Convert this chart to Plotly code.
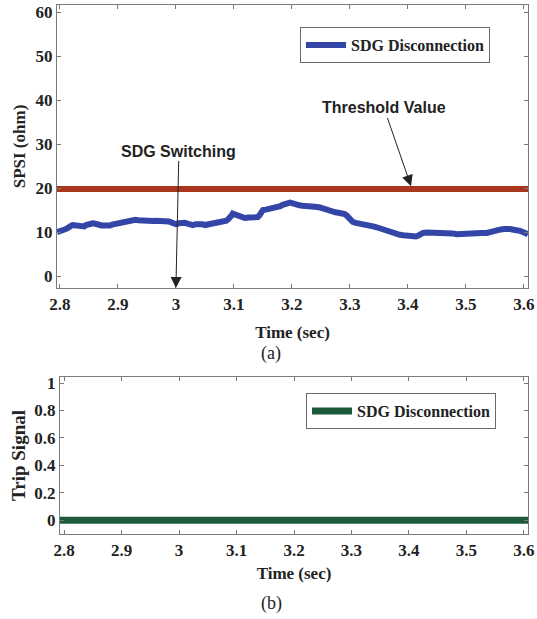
import plotly.graph_objects as go

# --- data -------------------------------------------------------------
time_s = [2.795, 2.800, 2.804, 2.808, 2.812, 2.815, 2.819, 2.822, 2.826, 2.830,
          2.834, 2.838, 2.842, 2.845, 2.849, 2.852, 2.857, 2.861, 2.865, 2.869,
          2.872, 2.877, 2.881, 2.886, 2.890, 2.894, 2.898, 2.904, 2.908, 2.912,
          2.917, 2.921, 2.926, 2.930, 2.935, 2.940, 2.945, 2.950, 2.955, 2.960,
          2.965, 2.970, 2.977, 2.984, 2.988, 2.992, 2.996, 3.000, 3.005, 3.011,
          3.016, 3.020, 3.025, 3.029, 3.034, 3.038, 3.042, 3.046, 3.050, 3.055,
          3.059, 3.063, 3.068, 3.072, 3.076, 3.080, 3.084, 3.087, 3.090, 3.093,
          3.096, 3.098, 3.102, 3.105, 3.109, 3.113, 3.119, 3.125, 3.130, 3.135,
          3.138, 3.141, 3.144, 3.146, 3.148, 3.150, 3.155, 3.160, 3.166, 3.173,
          3.177, 3.180, 3.184, 3.187, 3.190, 3.193, 3.197, 3.200, 3.203, 3.206,
          3.210, 3.213, 3.218, 3.222, 3.227, 3.231, 3.236, 3.240, 3.244, 3.248,
          3.252, 3.256, 3.260, 3.263, 3.267, 3.270, 3.275, 3.280, 3.285, 3.291,
          3.295, 3.298, 3.302, 3.305, 3.310, 3.315, 3.322, 3.329, 3.334, 3.340,
          3.346, 3.352, 3.356, 3.360, 3.365, 3.369, 3.375, 3.380, 3.386, 3.392,
          3.396, 3.400, 3.405, 3.409, 3.414, 3.418, 3.422, 3.426, 3.433, 3.440,
          3.448, 3.456, 3.463, 3.470, 3.477, 3.484, 3.492, 3.500, 3.510, 3.519,
          3.527, 3.536, 3.542, 3.547, 3.553, 3.560, 3.566, 3.571, 3.576, 3.580,
          3.584, 3.588, 3.593, 3.598, 3.603, 3.607]
spsi_ohm = [10.0, 10.1, 10.3, 10.6, 10.8, 11.2, 11.4, 11.6, 11.5, 11.3,
            11.2, 11.1, 11.3, 11.6, 11.8, 12.0, 12.0, 11.9, 11.7, 11.6,
            11.5, 11.5, 11.4, 11.5, 11.7, 11.8, 11.9, 12.0, 12.2, 12.4,
            12.6, 12.7, 12.8, 12.8, 12.7, 12.6, 12.7, 12.6, 12.5, 12.5,
            12.6, 12.6, 12.5, 12.6, 12.4, 12.2, 12.0, 11.8, 12.0, 12.2,
            12.1, 11.9, 11.7, 11.6, 11.8, 11.9, 11.8, 11.8, 11.6, 11.7,
            11.9, 12.0, 12.2, 12.3, 12.3, 12.4, 12.5, 12.6, 12.9, 13.2,
            13.8, 14.2, 14.0, 13.7, 13.4, 13.3, 13.2, 13.3, 13.3, 13.3,
            13.3, 13.4, 13.8, 14.3, 14.7, 15.0, 15.1, 15.2, 15.4, 15.6,
            15.7, 15.9, 16.2, 16.4, 16.6, 16.7, 16.7, 16.6, 16.4, 16.2,
            16.2, 16.1, 16.0, 16.0, 15.9, 15.9, 15.8, 15.7, 15.7, 15.6,
            15.4, 15.2, 15.0, 14.8, 14.7, 14.6, 14.5, 14.4, 14.3, 14.1,
            13.7, 13.2, 12.7, 12.3, 12.1, 12.0, 11.9, 11.8, 11.6, 11.3,
            11.1, 10.8, 10.6, 10.4, 10.2, 10.1, 9.8, 9.6, 9.4, 9.3,
            9.2, 9.1, 9.0, 8.9, 9.0, 9.2, 9.5, 9.8, 9.9, 9.9,
            10.0, 10.0, 9.9, 9.8, 9.7, 9.5, 9.6, 9.7, 9.8, 9.8,
            9.8, 9.8, 10.0, 10.5, 10.6, 10.6, 10.7, 10.8, 10.7, 10.6,
            10.6, 10.5, 10.3, 10.0, 9.8, 9.5]
threshold_ohm = 19.8
trip_time = [2.793, 3.607]
trip_signal = [0, 0]

x_ticks = [2.8, 2.9, 3.0, 3.1, 3.2, 3.3, 3.4, 3.5, 3.6]
x_tick_text = ["2.8", "2.9", "3", "3.1", "3.2", "3.3", "3.4", "3.5", "3.6"]
spsi_ticks = [0, 10, 20, 30, 40, 50, 60]
trip_ticks = [0, 0.2, 0.4, 0.6, 0.8, 1]
trip_tick_text = ["0", "0.2", "0.4", "0.6", "0.8", "1"]

switch_time = 3.0
threshold_mark_time = 3.407

# --- styling ----------------------------------------------------------
SERIF = "Liberation Serif"
SANS = "Liberation Sans"
AXIS_GREY = "#7a7a7a"
TEXT = "#222222"

tick_font = dict(family=SERIF, size=17, color=TEXT, weight="bold")
title_font = dict(family=SERIF, size=17, color=TEXT, weight="bold")

fig = go.Figure()

fig.add_trace(go.Scatter(
    x=[trip_time[0], trip_time[1]], y=[threshold_ohm, threshold_ohm],
    mode="lines", line=dict(color="#a8361c", width=6),
    showlegend=False, xaxis="x", yaxis="y", hoverinfo="skip"))
fig.add_trace(go.Scatter(
    x=time_s, y=spsi_ohm, mode="lines", name="SDG Disconnection",
    line=dict(color="#3346a8", width=6), xaxis="x", yaxis="y", legend="legend"))
fig.add_trace(go.Scatter(
    x=trip_time, y=trip_signal, mode="lines", name="SDG Disconnection",
    line=dict(color="#1d5a3a", width=7), xaxis="x2", yaxis="y2", legend="legend2"))

axis_common = dict(
    showline=True, linecolor=AXIS_GREY, linewidth=1.2, mirror="allticks",
    ticks="inside", ticklen=4, tickcolor=AXIS_GREY, tickwidth=1,
    showgrid=False, zeroline=False, tickfont=tick_font, automargin=False,
)

legend_font = dict(family=SERIF, size=16, color=TEXT, weight="bold")

fig.update_layout(
    width=537, height=619,
    margin=dict(l=0, r=0, t=0, b=0),
    paper_bgcolor="white", plot_bgcolor="white",
    xaxis=dict(domain=[57 / 537, 528 / 537], range=[2.795, 3.607], anchor="y",
               tickvals=x_ticks, ticktext=x_tick_text,
               title=dict(text="Time (sec)", font=title_font, standoff=13),
               **axis_common),
    yaxis=dict(domain=[1 - 288 / 619, 1 - 5 / 619], range=[-2.7, 61.6], anchor="x",
               tickvals=spsi_ticks,
               title=dict(text="SPSI (ohm)", font=title_font, standoff=5),
               **axis_common),
    xaxis2=dict(domain=[60 / 537, 528 / 537], range=[2.793, 3.607], anchor="y2",
                tickvals=x_ticks, ticktext=x_tick_text,
                title=dict(text="Time (sec)", font=title_font, standoff=8),
                **axis_common),
    yaxis2=dict(domain=[1 - 534 / 619, 1 - 377 / 619], range=[-0.1, 1.044], anchor="x2",
                tickvals=trip_ticks, ticktext=trip_tick_text,
                title=dict(text="Trip Signal", font=dict(title_font, size=19), standoff=3),
                **axis_common),
    legend=dict(x=300 / 537, y=1 - 27 / 619, xanchor="left", yanchor="top",
                bgcolor="white", bordercolor="#6a6a6a", borderwidth=1,
                font=legend_font, itemwidth=40),
    legend2=dict(x=306 / 537, y=1 - 393 / 619, xanchor="left", yanchor="top",
                 bgcolor="white", bordercolor="#6a6a6a", borderwidth=1,
                 font=legend_font, itemwidth=40),
)

annotation_font = dict(family=SANS, size=16, color=TEXT, weight="bold")
fig.add_annotation(
    x=threshold_mark_time, y=threshold_ohm, xref="x", yref="y",
    text="Threshold Value", font=annotation_font,
    showarrow=True, arrowhead=2, arrowsize=2.2, arrowwidth=1, arrowcolor="#222222",
    ax=-28, ay=-81, standoff=3)
fig.add_annotation(
    x=switch_time, y=-2.7, xref="x", yref="y",
    text="SDG Switching", font=annotation_font,
    showarrow=True, arrowhead=2, arrowsize=2.2, arrowwidth=1, arrowcolor="#222222",
    ax=3, ay=-137, standoff=0)

caption_font = dict(family=SERIF, size=18, color=TEXT)
fig.add_annotation(x=271 / 537, y=1 - 353 / 619, xref="paper", yref="paper",
                   yanchor="middle", text="(a)", showarrow=False, font=caption_font)
fig.add_annotation(x=271 / 537, y=1 - 603 / 619, xref="paper", yref="paper",
                   yanchor="middle", text="(b)", showarrow=False, font=caption_font)

fig.write_html("out.html")
